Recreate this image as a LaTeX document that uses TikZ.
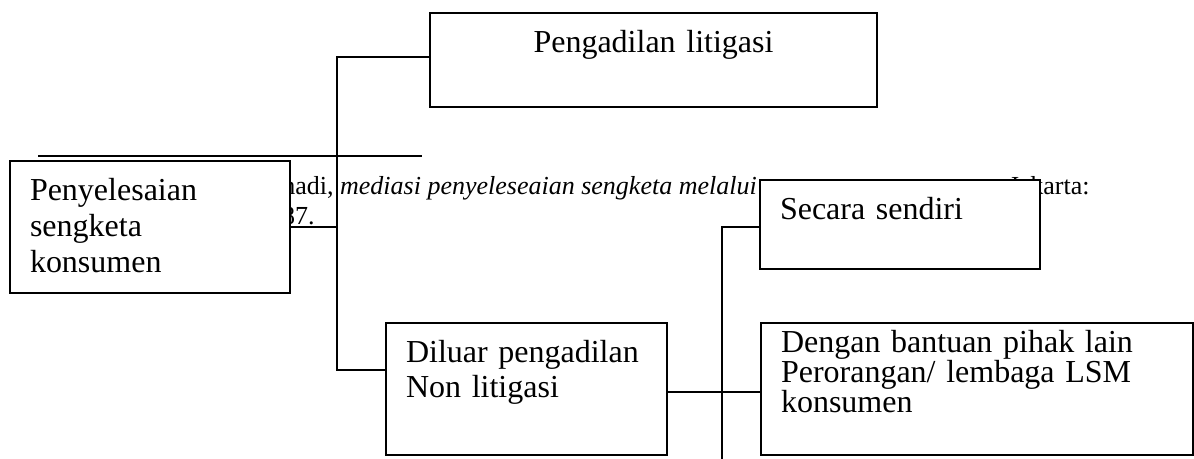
\documentclass[tikz,border=0pt]{standalone}
\usepackage{fontspec}
\setmainfont{Liberation Serif}
\usetikzlibrary{calc}

\begin{document}
\begin{tikzpicture}[x=0.5pt,y=-0.5pt,
      kotak/.style={draw=black,line width=1pt,fill=white,anchor=north west,
          inner xsep=10pt,inner ysep=0pt,outer sep=0pt},
      garis/.style={line width=1pt},
      catatan/.style={inner sep=0pt,font=\fontsize{13}{15}\selectfont}]
      % Page area
      \useasboundingbox (0,0) rectangle (1194,459);
      % Footnote under the boxes
      \coordinate (rulerA) at (38,156);
      \coordinate (rulerB) at (422,156);
      \draw[line width=0.6pt] (rulerA) -- (rulerB);
      \node[catatan,anchor=base west] (fnA) at (282,195) {hadi, \textit{mediasi penyeleseaian sengketa melalui}};
      \node[catatan,anchor=base east] (fnB) at (1090,195) {Jakarta:};
      \node[catatan,anchor=base east] (fnC) at (315,225) {87.};
      % Boxes
      \node[kotak,text width=203.5pt,align=center,text height=20pt,text depth=27pt,
          font=\fontsize{16}{18}\selectfont] (pgl) at (430,13) {Pengadilan litigasi};
      \node[kotak,text width=120pt,align=left,text height=20pt,text depth=46pt,
          font=\fontsize{16}{18}\selectfont] (pen) at (10,161) {Penyelesaian\\ sengketa\\ konsumen};
      \node[kotak,text width=120pt,align=left,text height=20pt,text depth=24.5pt,
          font=\fontsize{16}{18}\selectfont] (sec) at (760,180) {Secara sendiri};
      \node[kotak,text width=120.5pt,align=left,text height=20pt,text depth=46pt,
          font=\fontsize{16}{17.5}\selectfont] (dil) at (386,323) {Diluar pengadilan\\ Non litigasi};
      \node[kotak,text width=196pt,align=left,text height=15pt,text depth=51pt,
          font=\fontsize{16}{15}\selectfont] (den) at (761,323) {Dengan bantuan pihak lain\\ Perorangan/ lembaga LSM\\ konsumen};
      % Connectors
      \coordinate (batang) at (337,0);
      \coordinate (cabang) at (722,459);
      \coordinate (pglIn) at ($(pgl.west)+(0,-3)$);
      \coordinate (dilIn) at ($(dil.west)+(0,-19)$);
      \coordinate (dilOut) at ($(dil.east)+(0,3)$);
      \coordinate (secIn) at ($(sec.west)+(0,2.5)$);
      \draw[garis] (pglIn) -- (pglIn -| batang) -- (dilIn -| batang) -- (dilIn);
      \draw[garis] (pen.east) -- (pen.east -| batang);
      \draw[garis] (dilOut) -- (dilOut -| den.west);
      \draw[garis] (secIn) -- (secIn -| cabang) -- (cabang);
\end{tikzpicture}
\end{document}
